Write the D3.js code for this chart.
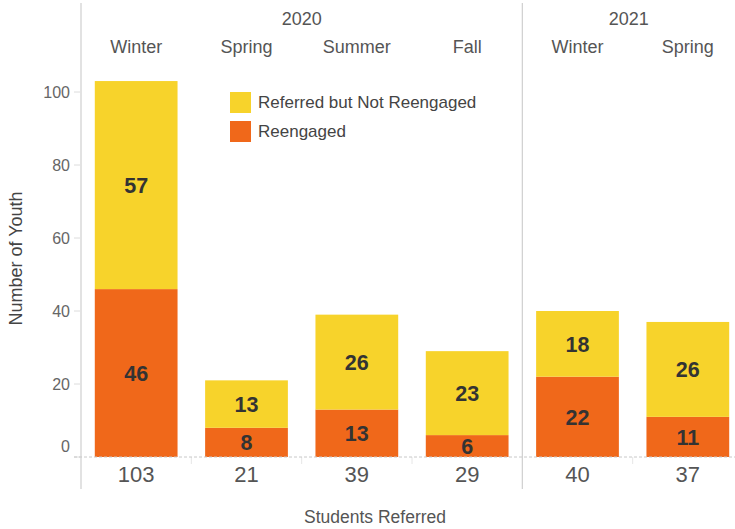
<!DOCTYPE html>
<html>
<head>
<meta charset="utf-8">
<script src="https://cdn.jsdelivr.net/npm/d3@7"></script>
<style>
  body { margin: 0; background: #fff; }
  svg { display: block; font-family: Arial, "Liberation Sans", sans-serif; }
</style>
</head>
<body>
<div id="chart"></div>
<script>
const years = ['2020', '2020', '2020', '2020', '2021', '2021'];
const seasons = ['Winter', 'Spring', 'Summer', 'Fall', 'Winter', 'Spring'];
const reengaged = [46, 8, 13, 6, 22, 11];
const notReengaged = [57, 13, 26, 23, 18, 26];
const yTicks = [0, 20, 40, 60, 80, 100];
const seriesNames = ['Referred but Not Reengaged', 'Reengaged'];

const W = 735, H = 529;
const YELLOW = '#F7D32B', ORANGE = '#F0681A';

const keys = seasons.map((s, i) => years[i] + ' ' + s);
const rows = keys.map((k, i) => ({ key: k, reengaged: reengaged[i], notReengaged: notReengaged[i] }));

const svg = d3.select('#chart').append('svg')
  .attr('width', W).attr('height', H);

const x = d3.scaleBand().domain(keys).range([81, 743]).paddingInner(0.25).paddingOuter(0.125);
const y = d3.scaleLinear().domain([0, 100]).range([457, 92]);

const stack = d3.stack().keys(['reengaged', 'notReengaged'])(rows);
const color = { reengaged: ORANGE, notReengaged: YELLOW };

// frame lines: left edge and year separator
const yearStarts = keys.filter((k, i) => i === 0 || years[i] !== years[i - 1]);
const stepW = x.step();
svg.selectAll('line.sep')
  .data(yearStarts)
  .join('line')
  .attr('x1', d => x(d) - stepW * 0.125).attr('x2', d => x(d) - stepW * 0.125)
  .attr('y1', 3).attr('y2', 489)
  .attr('stroke', '#cfcfcf').attr('stroke-width', 1.2);

// small boundary ticks under baseline
svg.selectAll('line.btick')
  .data(keys.filter((k, i) => i > 0 && years[i] === years[i - 1]))
  .join('line')
  .attr('x1', d => x(d) - stepW * 0.125).attr('x2', d => x(d) - stepW * 0.125)
  .attr('y1', y(0)).attr('y2', y(0) + 7)
  .attr('stroke', '#e6e6e6');

// y axis ticks + labels
const yg = svg.append('g');
yg.selectAll('line')
  .data(yTicks)
  .join('line')
  .attr('x1', 74).attr('x2', 80)
  .attr('y1', d => y(d)).attr('y2', d => y(d))
  .attr('stroke', '#dcdcdc');
yg.selectAll('text')
  .data(yTicks)
  .join('text')
  .attr('x', 70)
  .attr('y', d => d === 0 ? y(d) - 11 : y(d))
  .attr('dy', '0.35em')
  .attr('text-anchor', 'end')
  .attr('font-size', 16)
  .attr('fill', '#666')
  .text(d => d);

svg.append('text')
  .attr('transform', `translate(22,${(y(0) + 60) / 2}) rotate(-90)`)
  .attr('text-anchor', 'middle')
  .attr('font-size', 18)
  .attr('fill', '#444')
  .text('Number of Youth');

// bars
svg.selectAll('g.layer')
  .data(stack)
  .join('g')
  .attr('fill', d => color[d.key])
  .selectAll('rect')
  .data(d => d)
  .join('rect')
  .attr('x', d => x(d.data.key))
  .attr('width', x.bandwidth())
  .attr('y', d => y(d[1]))
  .attr('height', d => y(d[0]) - y(d[1]));

// value labels
svg.selectAll('g.vlab')
  .data(stack)
  .join('g')
  .selectAll('text')
  .data(d => d)
  .join('text')
  .attr('x', d => x(d.data.key) + x.bandwidth() / 2)
  .attr('y', d => (y(d[0]) + y(d[1])) / 2)
  .attr('dy', '0.36em')
  .attr('text-anchor', 'middle')
  .attr('font-size', 21.5)
  .attr('font-weight', 'bold')
  .attr('fill', '#333')
  .text(d => d[1] - d[0]);

// dashed baseline
svg.append('line')
  .attr('x1', 74).attr('x2', W)
  .attr('y1', y(0)).attr('y2', y(0))
  .attr('stroke', '#c8c8c8')
  .attr('stroke-dasharray', '3,2');

// totals under bars
svg.selectAll('text.total')
  .data(rows)
  .join('text')
  .attr('x', d => x(d.key) + x.bandwidth() / 2)
  .attr('y', 482)
  .attr('text-anchor', 'middle')
  .attr('font-size', 22)
  .attr('fill', '#555')
  .text(d => d.reengaged + d.notReengaged);

svg.append('text')
  .attr('x', 375).attr('y', 523)
  .attr('text-anchor', 'middle')
  .attr('font-size', 17.5)
  .attr('fill', '#555')
  .text('Students Referred');

// header: seasons and years
svg.selectAll('text.season')
  .data(keys)
  .join('text')
  .attr('x', d => x(d) + x.bandwidth() / 2)
  .attr('y', 53)
  .attr('text-anchor', 'middle')
  .attr('font-size', 18)
  .attr('fill', '#555')
  .text((d, i) => seasons[i]);

const yearGroups = d3.groups(keys.map((k, i) => ({ k, yr: years[i] })), d => d.yr);
svg.selectAll('text.year')
  .data(yearGroups)
  .join('text')
  .attr('x', ([, g]) => {
    const x0 = x(g[0].k) - stepW * 0.125;
    const x1 = Math.min(W, x(g[g.length - 1].k) + x.bandwidth() + stepW * 0.125);
    return (x0 + x1) / 2;
  })
  .attr('y', 25)
  .attr('text-anchor', 'middle')
  .attr('font-size', 18)
  .attr('fill', '#555')
  .text(([yr]) => yr);

// legend
const legend = svg.append('g').attr('transform', 'translate(230,92)');
const li = legend.selectAll('g')
  .data(seriesNames)
  .join('g')
  .attr('transform', (d, i) => `translate(0,${i * 29})`);
li.append('rect')
  .attr('width', 21).attr('height', 21)
  .attr('fill', (d, i) => i === 0 ? YELLOW : ORANGE);
li.append('text')
  .attr('x', 28).attr('y', 10.5)
  .attr('dy', '0.35em')
  .attr('font-size', 17)
  .attr('fill', '#444')
  .text(d => d);
</script>
</body>
</html>
